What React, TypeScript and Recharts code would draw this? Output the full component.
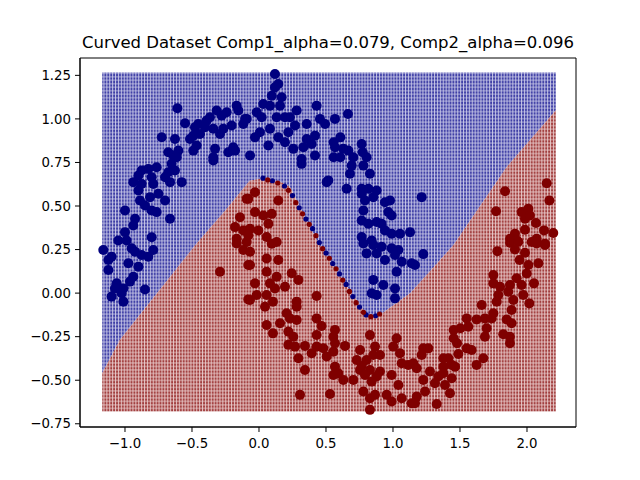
import React from "react";
import {
  ComposedChart,
  Area,
  Scatter,
  XAxis,
  YAxis,
  ReferenceArea,
} from "recharts";

// decision boundary (mesh region edges)
const boundaryX = [-1.17, -1.04, -0.76, -0.47, -0.25, -0.07, 0.0, 0.05, 0.17, 0.23, 0.44, 0.69, 0.81, 0.92, 1.13, 1.45, 1.85, 2.215];
const boundaryY = [-0.46, -0.27, 0.0, 0.28, 0.475, 0.645, 0.655, 0.66, 0.635, 0.61, 0.29, 0.0, -0.13, -0.115, 0.0, 0.275, 0.725, 1.05];
const meshTop = 1.267;
const meshBottom = -0.68;

const xTicks = [-1.0, -0.5, 0.0, 0.5, 1.0, 1.5, 2.0];
const yTicks = [-0.75, -0.5, -0.25, 0.0, 0.25, 0.5, 0.75, 1.0, 1.25];

// small mesh dots sitting right on the boundary
const blueEdge: [number, number][] = [
  [0.03, 0.66], [0.1, 0.645], [0.19, 0.615], [0.25, 0.56], [0.3, 0.49], [0.35, 0.425],
  [0.4, 0.37], [0.45, 0.29], [0.5, 0.23], [0.55, 0.17], [0.6, 0.11], [0.65, 0.05],
  [0.7, -0.02], [0.75, -0.08], [0.8, -0.125], [0.87, -0.13],
];
const redEdge: [number, number][] = [
  [0.065, 0.65], [0.14, 0.632], [0.22, 0.59], [0.275, 0.52], [0.325, 0.455], [0.375, 0.395],
  [0.425, 0.33], [0.475, 0.255], [0.525, 0.2], [0.575, 0.14], [0.625, 0.075], [0.675, 0.01],
  [0.725, -0.055], [0.78, -0.11], [0.835, -0.135], [0.9, -0.12],
];

// class 0 (upper moon)
const bluePoints: [number, number][] = [
  [-0.609, 1.061], [-0.552, 0.975], [-0.726, 0.895], [-0.627, 0.885], [-0.478, 0.952], [-0.453, 0.971],
  [-0.391, 0.99], [-0.366, 1.009], [-0.316, 1.048], [-0.279, 1.019], [-0.241, 1.038], [-0.167, 1.076],
  [-0.154, 1.048], [-0.104, 1.0], [-0.117, 0.971], [-0.204, 0.962], [-0.266, 0.943], [-0.291, 0.914],
  [-0.341, 0.943], [-0.403, 0.952], [-0.44, 0.914], [-0.49, 0.904], [-0.515, 0.885], [-0.465, 0.847],
  [-0.49, 0.818], [-0.328, 0.828], [-0.341, 0.78], [-0.341, 0.761], [-0.229, 0.809], [-0.179, 0.818],
  [-0.192, 0.837], [-0.677, 0.809], [-0.639, 0.79], [-0.602, 0.818], [-0.614, 0.78], [-0.652, 0.742],
  [-0.627, 0.704], [-0.677, 0.694], [-0.701, 0.665], [-0.664, 0.637], [-0.577, 0.637], [-0.764, 0.723],
  [-0.826, 0.713], [-0.876, 0.704], [-0.9, 0.675], [-0.938, 0.637], [-0.9, 0.589], [-0.876, 0.627],
  [-0.801, 0.665], [-0.789, 0.627], [-0.751, 0.57], [-0.701, 0.532], [-0.813, 0.551], [-0.888, 0.532],
  [-0.851, 0.503], [-0.801, 0.474], [-0.764, 0.465], [-0.925, 0.427], [-1.0, 0.474], [-1.0, 0.35],
  [-0.938, 0.388], [-0.801, 0.321], [-1.05, 0.302], [-0.988, 0.302], [-0.664, 0.427], [-1.162, 0.247],
  [-1.124, 0.19], [-1.1, 0.209], [-1.124, 0.133], [-0.95, 0.257], [-0.925, 0.238], [-0.876, 0.219],
  [-0.826, 0.209], [-0.789, 0.247], [-0.975, 0.171], [-0.9, 0.152], [-0.938, 0.094], [-0.963, 0.066],
  [-1.062, 0.056], [-1.075, 0.027], [-1.012, 0.027], [-1.025, -0.001], [-1.1, -0.02], [-1.012, -0.049],
  [-0.851, 0.021],
  [0.119, 1.258], [0.144, 1.2], [0.119, 1.181], [0.095, 1.133], [0.169, 1.124], [0.032, 1.086],
  [0.082, 1.076], [0.157, 1.076], [-0.017, 1.038], [-0.092, 1.0], [0.02, 1.009], [0.132, 1.009],
  [0.194, 1.009], [0.231, 1.009], [0.281, 1.048], [0.43, 1.076], [0.455, 1.0], [0.493, 0.971],
  [0.567, 1.0], [0.664, 1.028], [0.269, 0.962], [0.356, 0.971], [0.219, 0.923], [0.082, 0.943],
  [0.007, 0.923], [-0.03, 0.894], [0.07, 0.847], [0.144, 0.894], [0.194, 0.866], [0.256, 0.828],
  [0.331, 0.837], [0.356, 0.885], [0.418, 0.904], [0.393, 0.856], [0.318, 0.77], [0.318, 0.742],
  [0.418, 0.79], [0.557, 0.866], [0.607, 0.894], [0.567, 0.837], [0.629, 0.828], [0.667, 0.818],
  [0.557, 0.78], [0.607, 0.78], [0.704, 0.78], [0.766, 0.856], [0.774, 0.809], [0.692, 0.732],
  [0.779, 0.732], [0.803, 0.78], [0.679, 0.685], [0.828, 0.685], [0.517, 0.647], [0.505, 0.637],
  [0.654, 0.599], [0.766, 0.599], [0.816, 0.599], [0.878, 0.589], [0.766, 0.57], [0.791, 0.532],
  [0.853, 0.551], [0.94, 0.522], [0.978, 0.532], [0.779, 0.474], [0.965, 0.465], [0.99, 0.446],
  [0.878, 0.408], [0.915, 0.398], [0.766, 0.417], [0.816, 0.398], [0.94, 0.36], [0.99, 0.341],
  [1.052, 0.341], [1.127, 0.35], [0.766, 0.322], [0.841, 0.302], [-0.067, 0.79],
  [0.779, 0.285], [0.853, 0.276], [0.915, 0.266], [0.99, 0.257], [1.04, 0.247], [0.803, 0.228],
  [0.878, 0.228], [0.94, 0.19], [1.015, 0.219], [1.065, 0.18], [1.027, 0.123], [0.853, 0.076],
  [0.928, 0.047], [1.015, 0.027], [0.841, -0.001], [0.878, -0.011], [1.015, -0.03],
  [1.214, 0.551], [1.226, 0.224], [1.164, 0.161], [1.139, 0.171],
];

// class 1 (lower moon)
const redPoints: [number, number][] = [
  [-0.092, 0.541], [-0.142, 0.436], [-0.179, 0.379], [-0.117, 0.36], [-0.167, 0.312], [-0.092, 0.293],
  [-0.291, 0.123], [-0.167, 0.285], [-0.117, 0.247], [-0.08, 0.161], [-0.08, -0.036],
  [-0.03, 0.579], [-0.08, 0.541], [0.144, 0.532], [-0.03, 0.465], [0.032, 0.446], [0.095, 0.455],
  [0.07, 0.398], [-0.067, 0.369], [-0.005, 0.36], [-0.08, 0.331], [0.057, 0.322], [0.132, 0.293],
  [0.095, 0.284],
  [2.147, 0.631], [1.836, 0.585], [2.167, 0.532], [1.769, 0.47], [1.96, 0.465], [2.01, 0.484],
  [1.985, 0.427], [2.022, 0.446], [2.067, 0.402], [1.985, 0.364], [2.127, 0.36], [2.196, 0.345],
  [1.91, 0.341], [1.873, 0.312], [1.923, 0.303], [2.072, 0.312], [2.035, 0.293], [2.134, 0.284],
  [-0.067, 0.237], [0.057, 0.199], [0.144, 0.19], [-0.067, 0.161], [0.057, 0.123], [0.132, 0.094],
  [0.244, 0.114], [0.294, 0.076], [-0.03, 0.056], [0.082, 0.056], [0.119, 0.027], [0.194, 0.037],
  [-0.017, -0.011], [-0.067, -0.039], [0.057, -0.011], [0.104, -0.049], [0.045, -0.078], [0.281, -0.049],
  [0.281, -0.078], [0.43, -0.017], [0.206, -0.116], [0.231, -0.145], [0.281, -0.154], [0.43, -0.145],
  [0.057, -0.183], [0.157, -0.173], [0.104, -0.231], [0.467, -0.189], [0.219, -0.221], [0.256, -0.25],
  [0.567, -0.211], [0.43, -0.24], [0.555, -0.25], [0.219, -0.297], [0.269, -0.307], [0.343, -0.303],
  [0.43, -0.307], [0.48, -0.316], [0.393, -0.345], [0.567, -0.288], [0.642, -0.303], [0.555, -0.336],
  [0.505, -0.364], [0.294, -0.374], [0.828, -0.241], [0.754, -0.326], [0.866, -0.307], [0.853, -0.355],
  [0.903, -0.355], [1.027, -0.259], [1.002, -0.307], [1.052, -0.345], [1.114, -0.412], [1.065, -0.403],
  [0.729, -0.384], [0.803, -0.384], [0.766, -0.418], [0.754, -0.441], [0.828, -0.441], [0.791, -0.47],
  [0.903, -0.45], [0.99, -0.47], [0.878, -0.479], [0.841, -0.508], [1.04, -0.527], [0.567, -0.422],
  [0.592, -0.46], [0.629, -0.498], [0.555, -0.47], [0.704, -0.498], [0.343, -0.441], [0.779, -0.565],
  [0.828, -0.603], [0.866, -0.584], [0.953, -0.584], [0.99, -0.622], [1.065, -0.603], [1.139, -0.632],
  [0.306, -0.584], [0.53, -0.579], [0.828, -0.67],
  [1.873, 0.289], [1.935, 0.295], [1.91, 0.251], [1.985, 0.232], [2.072, 0.285], [2.134, 0.276],
  [1.779, 0.241], [1.945, 0.19], [2.01, 0.161], [2.085, 0.171], [1.998, 0.113], [2.052, 0.056],
  [1.749, 0.104], [1.749, 0.056], [1.799, 0.037], [1.923, 0.085], [1.96, 0.047], [1.873, 0.047],
  [1.86, 0.008], [1.972, -0.011], [1.786, -0.011], [1.774, -0.049], [1.898, -0.04], [2.017, -0.059],
  [1.662, -0.068], [1.885, -0.097], [1.749, -0.116], [1.736, -0.145], [1.686, -0.145], [1.848, -0.151],
  [1.885, -0.173], [1.624, -0.151], [1.55, -0.145], [1.562, -0.193], [1.453, -0.212], [1.503, -0.202],
  [1.699, -0.202], [1.823, -0.236], [1.873, -0.25], [1.873, -0.288], [1.686, -0.25], [1.453, -0.259],
  [1.478, -0.288], [1.55, -0.317], [1.587, -0.326], [1.488, -0.349], [1.674, -0.374], [1.624, -0.412],
  [1.226, -0.317], [1.264, -0.317], [1.214, -0.355], [1.376, -0.374], [1.413, -0.374], [1.438, -0.412],
  [1.376, -0.422], [1.463, -0.422], [1.152, -0.403], [1.177, -0.431], [1.276, -0.45], [1.338, -0.479],
  [1.376, -0.46], [1.438, -0.489], [1.226, -0.498], [1.313, -0.517], [1.388, -0.527], [1.425, -0.575],
  [1.239, -0.565], [1.177, -0.594], [1.164, -0.632], [1.326, -0.636],
];

const BLUE = "#00007f";
const RED = "#7f0000";
const FONT = "DejaVu Sans, sans-serif";
const X_DOMAIN: [number, number] = [-1.3358, 2.3657];
const Y_DOMAIN: [number, number] = [-0.7685, 1.3496];

const regionData = boundaryX.map((x, i) => ({
  x,
  blue: [boundaryY[i], meshTop],
  red: [meshBottom, boundaryY[i]],
}));

const toPts = (arr: [number, number][]) => arr.map(([x, y]) => ({ x, y }));

const fmtX = (v: number) => (v < 0 ? "\u2212" : "") + Math.abs(v).toFixed(1);
const fmtY = (v: number) => (v < 0 ? "\u2212" : "") + Math.abs(v).toFixed(2);

function Dot(r: number, fill: string) {
  return (props: any) => <circle cx={props.cx} cy={props.cy} r={r} fill={fill} />;
}

export default function App() {
  return (
    <div style={{ position: "fixed", left: 0, top: 0, width: 640, height: 480, background: "#fff" }}>
      <svg width={0} height={0} style={{ position: "absolute" }}>
        <defs>
          <pattern id="meshBlue" patternUnits="userSpaceOnUse" width={2.9} height={3.49}>
            <rect x={0} y={0} width={2.9} height={3.49} fill="#8888ca" />
            <circle cx={1.15} cy={1.75} r={1.15} fill="#3c3ca4" />
            <rect x={2.3} y={0} width={0.6} height={3.49} fill="#ececf8" />
          </pattern>
          <pattern id="meshRed" patternUnits="userSpaceOnUse" width={2.9} height={3.49}>
            <rect x={0} y={0} width={2.9} height={3.49} fill="#ca8c8c" />
            <circle cx={1.15} cy={1.75} r={1.15} fill="#a03c3c" />
            <rect x={2.3} y={0} width={0.6} height={3.49} fill="#f8ecec" />
          </pattern>
        </defs>
      </svg>
      <div
        style={{
          position: "absolute",
          left: 0,
          width: 656,
          top: 33,
          textAlign: "center",
          whiteSpace: "nowrap",
          fontFamily: FONT,
          fontSize: 16.5,
          color: "#000",
        }}
      >
        Curved Dataset Comp1_alpha=0.079, Comp2_alpha=0.096
      </div>
      <ComposedChart
        width={640}
        height={480}
        data={regionData}
        margin={{ top: 58, right: 64, left: 0, bottom: 0 }}
        style={{ position: "absolute", left: 0, top: 0 }}
      >
        <XAxis
          dataKey="x"
          type="number"
          domain={X_DOMAIN}
          allowDataOverflow
          ticks={xTicks}
          tickFormatter={fmtX}
          height={53}
          tickSize={5}
          tickMargin={7}
          stroke="#000"
          tick={{ fill: "#000", fontFamily: FONT, fontSize: 13.3 }}
          interval={0}
        />
        <YAxis
          type="number"
          domain={Y_DOMAIN}
          allowDataOverflow
          ticks={yTicks}
          tickFormatter={fmtY}
          width={80}
          tickSize={5}
          tickMargin={4}
          stroke="#000"
          tick={{ fill: "#000", fontFamily: FONT, fontSize: 13.3 }}
          interval={0}
        />
        <Area
          type="linear"
          dataKey="blue"
          stroke="none"
          fill="url(#meshBlue)"
          fillOpacity={1}
          dot={false}
          activeDot={false}
          isAnimationActive={false}
        />
        <Area
          type="linear"
          dataKey="red"
          stroke="none"
          fill="url(#meshRed)"
          fillOpacity={1}
          dot={false}
          activeDot={false}
          isAnimationActive={false}
        />
        <Scatter data={toPts(blueEdge)} dataKey="y" shape={Dot(2.6, BLUE)} isAnimationActive={false} />
        <Scatter data={toPts(redEdge)} dataKey="y" shape={Dot(2.6, RED)} isAnimationActive={false} />
        <Scatter data={toPts(bluePoints)} dataKey="y" shape={Dot(5, BLUE)} isAnimationActive={false} />
        <Scatter data={toPts(redPoints)} dataKey="y" shape={Dot(5, RED)} isAnimationActive={false} />
        <ReferenceArea
          x1={X_DOMAIN[0]}
          x2={X_DOMAIN[1]}
          y1={Y_DOMAIN[0]}
          y2={Y_DOMAIN[1]}
          fill="none"
          fillOpacity={0}
          stroke="#000"
          strokeWidth={1}
          ifOverflow="visible"
        />
      </ComposedChart>
    </div>
  );
}
